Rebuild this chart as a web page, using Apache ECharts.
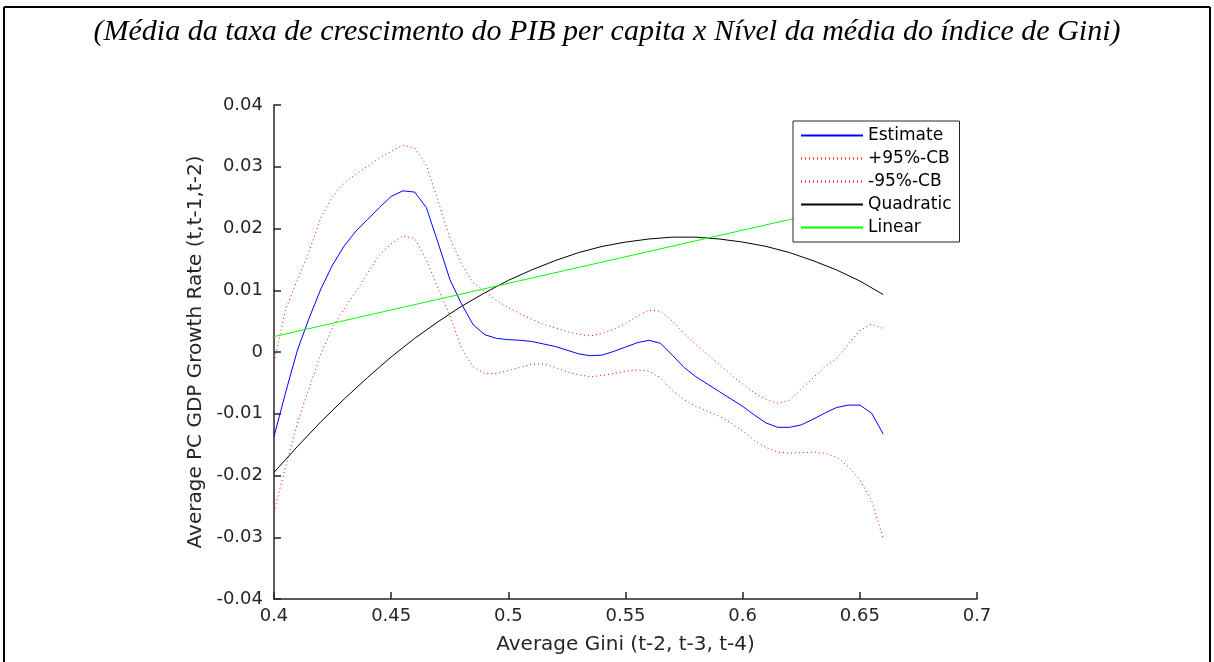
<!DOCTYPE html>
<html>
<head>
<meta charset="utf-8">
<script src="https://cdn.jsdelivr.net/npm/echarts@6/dist/echarts.min.js"></script>
<style>
  html, body { margin: 0; padding: 0; background: #fff; }
  #chart { width: 1214px; height: 662px; }
</style>
</head>
<body>
<div id="chart"></div>
<script>
var myChart = echarts.init(document.getElementById('chart'));

// x grid of the kernel estimate (average Gini)
var giniX = [
  0.400, 0.405, 0.410, 0.415, 0.420, 0.425, 0.430, 0.435, 0.440, 0.445,
  0.450, 0.455, 0.460, 0.465, 0.470, 0.475, 0.480, 0.485, 0.490, 0.495,
  0.500, 0.505, 0.510, 0.515, 0.520, 0.525, 0.530, 0.535, 0.540, 0.545,
  0.550, 0.555, 0.560, 0.565, 0.570, 0.575, 0.580, 0.585, 0.590, 0.595,
  0.600, 0.605, 0.610, 0.615, 0.620, 0.625, 0.630, 0.635, 0.640, 0.645,
  0.650, 0.655, 0.660
];
var estimate = [
  -0.0137, -0.0065, 0.0003, 0.0055, 0.0102, 0.0141, 0.0172, 0.0196, 0.0215, 0.0234,
  0.0252, 0.0261, 0.0259, 0.0234, 0.0177, 0.0118, 0.0078, 0.0044, 0.0028, 0.0022,
  0.0020, 0.0019, 0.0017, 0.0013, 0.0009, 0.0003, -0.0003, -0.0006, -0.0005, 0.0001,
  0.0008, 0.0015, 0.0019, 0.0014, -0.0005, -0.0025, -0.0040, -0.0052, -0.0064, -0.0076,
  -0.0088, -0.0102, -0.0115, -0.0122, -0.0122, -0.0118, -0.0109, -0.0099, -0.0090, -0.0086,
  -0.0086, -0.0099, -0.0133
];
var upperCB = [
  -0.0016, 0.0069, 0.0117, 0.0163, 0.0218, 0.0252, 0.0274, 0.0288, 0.0301, 0.0314,
  0.0325, 0.0335, 0.0330, 0.0303, 0.0245, 0.0185, 0.0143, 0.0112, 0.0098, 0.0083,
  0.0072, 0.0062, 0.0053, 0.0045, 0.0039, 0.0033, 0.0029, 0.0026, 0.0030, 0.0037,
  0.0046, 0.0058, 0.0068, 0.0066, 0.0050, 0.0030, 0.0012, -0.0004, -0.0020, -0.0037,
  -0.0052, -0.0066, -0.0077, -0.0083, -0.0078, -0.0060, -0.0042, -0.0024, -0.0011, 0.0012,
  0.0035, 0.0045, 0.0038
];
var lowerCB = [
  -0.0259, -0.0185, -0.0115, -0.0058, -0.0003, 0.0040, 0.0070, 0.0098, 0.0128, 0.0157,
  0.0175, 0.0188, 0.0184, 0.0150, 0.0103, 0.0060, 0.0006, -0.0024, -0.0035, -0.0035,
  -0.0030, -0.0025, -0.0020, -0.0019, -0.0025, -0.0032, -0.0037, -0.0040, -0.0038, -0.0035,
  -0.0031, -0.0029, -0.0031, -0.0042, -0.0062, -0.0077, -0.0088, -0.0096, -0.0104, -0.0115,
  -0.0128, -0.0143, -0.0155, -0.0162, -0.0164, -0.0163, -0.0162, -0.0164, -0.0170, -0.0185,
  -0.0207, -0.0240, -0.0302
];
// quadratic fit, read every 0.01
var quadX = [
  0.40, 0.41, 0.42, 0.43, 0.44, 0.45, 0.46, 0.47, 0.48, 0.49,
  0.50, 0.51, 0.52, 0.53, 0.54, 0.55, 0.56, 0.57, 0.58, 0.59,
  0.60, 0.61, 0.62, 0.63, 0.64, 0.65, 0.66
];
var quadY = [
  -0.0195, -0.0153, -0.0113, -0.0076, -0.0041, -0.0008, 0.0022, 0.0049, 0.0074, 0.0096,
  0.0116, 0.0133, 0.0148, 0.0161, 0.0171, 0.0178, 0.0183, 0.0186, 0.0186, 0.0183,
  0.0178, 0.0171, 0.0161, 0.0148, 0.0133, 0.0115, 0.0093
];
// linear fit end points
var linX = [0.40, 0.66];
var linY = [0.0025, 0.0249];

var seriesNames = ['Estimate', '+95%-CB', '-95%-CB', 'Quadratic', 'Linear'];
var seriesColors = ['#0000ff', '#ff0000', '#ff0000', '#000000', '#00ff00'];
var seriesDash = ['solid', [1, 3], [1, 3], 'solid', 'solid'];
var xTicks = { min: 0.4, max: 0.7, interval: 0.05 };
var yTicks = { min: -0.04, max: 0.04, interval: 0.01 };

function pairs(xs, ys) {
  return xs.map(function (x, i) { return [x, ys[i]]; });
}

var axisColor = '#262626';
var sans = 'DejaVu Sans';

function lineSeries(idx, xs, ys) {
  return {
    name: seriesNames[idx],
    type: 'line',
    data: pairs(xs, ys),
    symbol: 'none',
    showSymbol: false,
    smooth: false,
    animation: false,
    lineStyle: { color: seriesColors[idx], width: 1, type: seriesDash[idx] },
    itemStyle: { color: seriesColors[idx] }
  };
}

var option = {
  animation: false,
  title: [
    {
      text: '(Média da taxa de crescimento do PIB per capita x Nível da média do índice de Gini)',
      left: 'center',
      top: 12,
      textStyle: {
        fontFamily: 'Liberation Serif',
        fontStyle: 'italic',
        fontWeight: 'normal',
        fontSize: 30,
        color: '#000'
      }
    }
  ],
  graphic: [
    { type: 'line', shape: { x1: 4, y1: 7, x2: 1210, y2: 7 }, style: { stroke: '#000', lineWidth: 2 } },
    { type: 'line', shape: { x1: 4, y1: 7, x2: 4, y2: 662 }, style: { stroke: '#000', lineWidth: 2 } },
    { type: 'line', shape: { x1: 1210, y1: 7, x2: 1210, y2: 662 }, style: { stroke: '#000', lineWidth: 2 } }
  ],
  legend: {
    data: seriesNames,
    orient: 'vertical',
    left: 793,
    top: 121,
    padding: [6, 8, 6, 7],
    itemGap: 6,
    itemWidth: 62,
    itemHeight: 14,
    itemStyle: { opacity: 0 },
    borderColor: axisColor,
    borderWidth: 1,
    backgroundColor: '#fff',
    textStyle: { fontFamily: sans, fontSize: 17, color: '#000' }
  },
  grid: { left: 274, top: 105, width: 703, height: 494 },
  xAxis: {
    type: 'value',
    min: xTicks.min,
    max: xTicks.max,
    interval: xTicks.interval,
    name: 'Average Gini (t-2, t-3, t-4)',
    nameLocation: 'middle',
    nameGap: 36,
    nameTextStyle: { fontFamily: sans, fontSize: 20, color: axisColor },
    axisLine: { onZero: false, lineStyle: { color: axisColor, width: 1.5 } },
    axisTick: { inside: true, length: 7, lineStyle: { color: axisColor, width: 1.5 } },
    axisLabel: { fontFamily: sans, fontSize: 18, color: axisColor, margin: 8 },
    splitLine: { show: false }
  },
  yAxis: {
    type: 'value',
    min: yTicks.min,
    max: yTicks.max,
    interval: yTicks.interval,
    name: 'Average PC GDP Growth Rate (t,t-1,t-2)',
    nameLocation: 'middle',
    nameGap: 66,
    nameTextStyle: { fontFamily: sans, fontSize: 20, color: axisColor },
    axisLine: { show: true, onZero: false, lineStyle: { color: axisColor, width: 1.5 } },
    axisTick: { show: true, inside: true, length: 7, lineStyle: { color: axisColor, width: 1.5 } },
    axisLabel: { fontFamily: sans, fontSize: 18, color: axisColor, margin: 11 },
    splitLine: { show: false }
  },
  series: [
    lineSeries(0, giniX, estimate),
    lineSeries(1, giniX, upperCB),
    lineSeries(2, giniX, lowerCB),
    lineSeries(3, quadX, quadY),
    lineSeries(4, linX, linY)
  ]
};

myChart.setOption(option);
</script>
</body>
</html>
